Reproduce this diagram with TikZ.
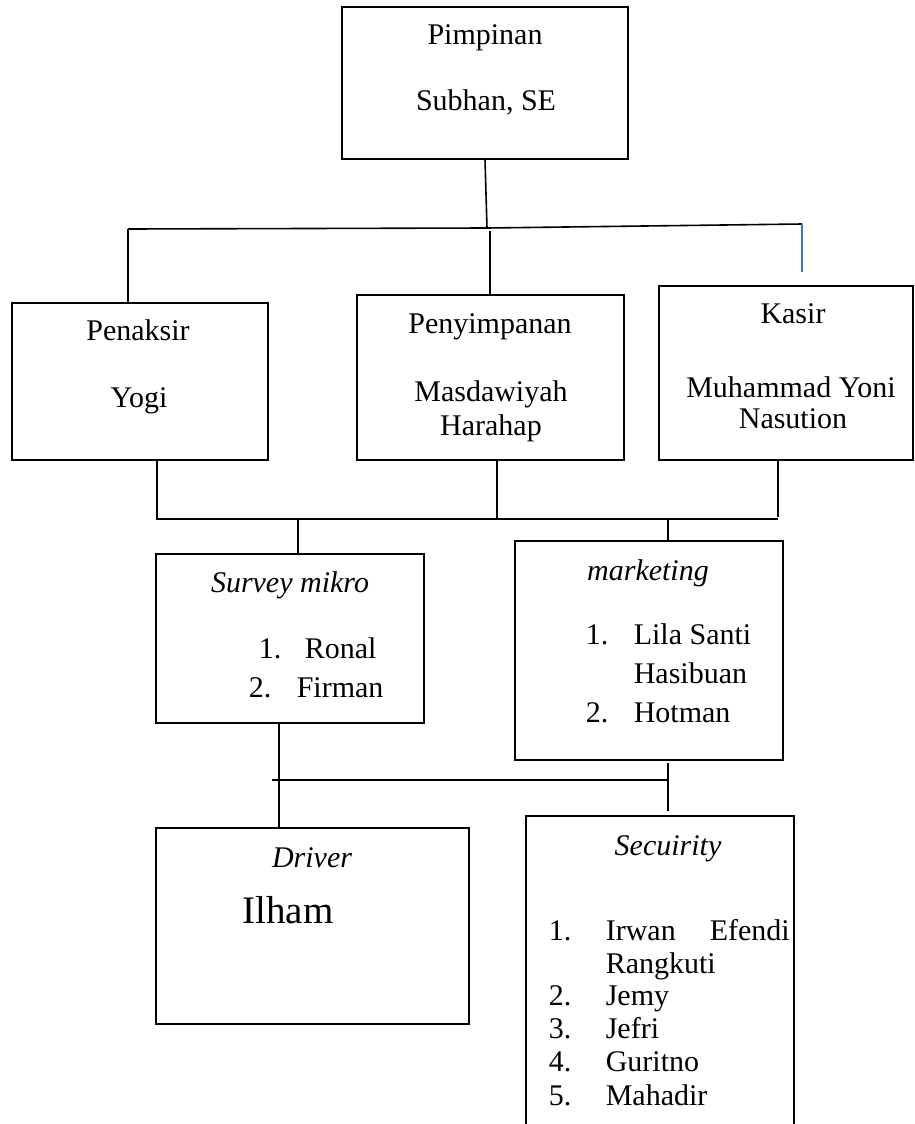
\documentclass[tikz,border=0pt]{standalone}
\usepackage{fontspec}
\setmainfont{Liberation Serif}
\definecolor{wordblue}{RGB}{68,114,196}
\begin{document}
\begin{tikzpicture}[x=0.5pt, y=-0.5pt, line width=0.8pt,
    unit/.style={draw, inner sep=0pt, outer sep=0pt, anchor=north west},
    txt/.style={anchor=base, inner sep=0pt, font=\fontsize{15}{17}\selectfont},
    lst/.style={txt, anchor=base west}]
    \clip (0,0) rectangle (915,1124);

    % Boxes
    \node[unit, minimum width=143pt, minimum height=76pt] (pim) at (342,7) {};
    \node[unit, minimum width=128pt, minimum height=78.5pt] (penaksir) at (12,303) {};
    \node[unit, minimum width=133.5pt, minimum height=82.5pt] (simpan) at (357,295) {};
    \node[unit, minimum width=127pt, minimum height=87pt] (kasir) at (659,286) {};
    \node[unit, minimum width=134pt, minimum height=84.5pt] (survey) at (156,554) {};
    \node[unit, minimum width=134pt, minimum height=109.5pt] (marketing) at (515,541) {};
    \node[unit, minimum width=156.5pt, minimum height=98pt] (driver) at (156,828) {};
    \node[unit, minimum width=134pt, minimum height=160pt] (security) at (526,816) {};

    % Texts
    \node[txt] (pim-1) at (485,44) {Pimpinan};
    \node[txt] (pim-2) at (486,110) {Subhan, SE};
    \node[txt] (pen-1) at (138,340) {Penaksir};
    \node[txt] (pen-2) at (139,407) {Yogi};
    \node[txt] (sim-1) at (490,333) {Penyimpanan};
    \node[txt] (sim-2) at (491,401) {Masdawiyah};
    \node[txt] (sim-3) at (491,435) {Harahap};
    \node[txt] (kas-1) at (793,323) {Kasir};
    \node[txt] (kas-2) at (791,397) {Muhammad Yoni};
    \node[txt] (kas-3) at (793,428) {Nasution};
    \node[txt] (sur-1) at (290,592) {\itshape Survey mikro};
    \node[lst] (sur-2) at (258,658) {\makebox[23pt][l]{1.}Ronal};
    \node[lst] (sur-3) at (248,697) {\makebox[24pt][l]{2.}Firman};
    \node[txt] (mkt-1) at (648,580) {\itshape marketing};
    \node[lst] (mkt-2) at (585,644) {\makebox[24pt][l]{1.}Lila Santi};
    \node[lst] (mkt-3) at (633,683) {Hasibuan};
    \node[lst] (mkt-4) at (585,722) {\makebox[24pt][l]{2.}Hotman};
    \node[txt] (drv-1) at (312,867) {\itshape Driver};
    \node[txt, font=\fontsize{19.5}{22}\selectfont] (drv-2) at (288,923) {Ilham};
    \node[txt] (sec-1) at (668,855) {\itshape Secuirity};
    \node[lst] (sec-2) at (548,940) {\makebox[28.5pt][l]{1.}\hbox to 92pt{Irwan\hfill Efendi}};
    \node[lst] (sec-3) at (605,973) {Rangkuti};
    \node[lst] (sec-4) at (548,1005) {\makebox[28.5pt][l]{2.}Jemy};
    \node[lst] (sec-5) at (548,1038) {\makebox[28.5pt][l]{3.}Jefri};
    \node[lst] (sec-6) at (548,1071) {\makebox[28.5pt][l]{4.}Guritno};
    \node[lst] (sec-7) at (548,1105) {\makebox[28.5pt][l]{5.}Mahadir};

    % Junctions
    \coordinate (j1) at (487,228);
    \coordinate (j1l) at (128,229);
    \coordinate (j1r) at (802,224);
    \coordinate (j1m) at (490,231);
    \coordinate (k1) at (802,272);
    \coordinate (j2l) at (157,519);
    \coordinate (j2m) at (497,519);
    \coordinate (j2k) at (778,517);
    \coordinate (j2r) at (778,519);
    \coordinate (j2s) at (298,519);
    \coordinate (j2mk) at (668,519);
    \coordinate (j3l) at (272,780);
    \coordinate (j3d) at (279,780);
    \coordinate (j3r) at (668,780);
    \coordinate (m1) at (668,763);
    \coordinate (m2) at (668,811);

    % Top level
    \draw (pim.south) -- (j1);
    \draw (j1l) -- (j1) -- (j1r);
    \draw (j1l) -- (j1l |- penaksir.north);
    \draw (j1m) -- (j1m |- simpan.north);
    \draw[wordblue] (j1r) -- (k1);
    % Middle level
    \draw (j2l |- penaksir.south) -- (j2l) -- (j2r);
    \draw (j2m |- simpan.south) -- (j2m);
    \draw (j2k |- kasir.south) -- (j2k);
    \draw (j2s) -- (j2s |- survey.north);
    \draw (j2mk) -- (j2mk |- marketing.north);
    % Bottom level
    \draw (j3d |- survey.south) -- (j3d |- driver.north);
    \draw (j3l) -- (j3r);
    \draw (m1) -- (m2);

\end{tikzpicture}
\end{document}
